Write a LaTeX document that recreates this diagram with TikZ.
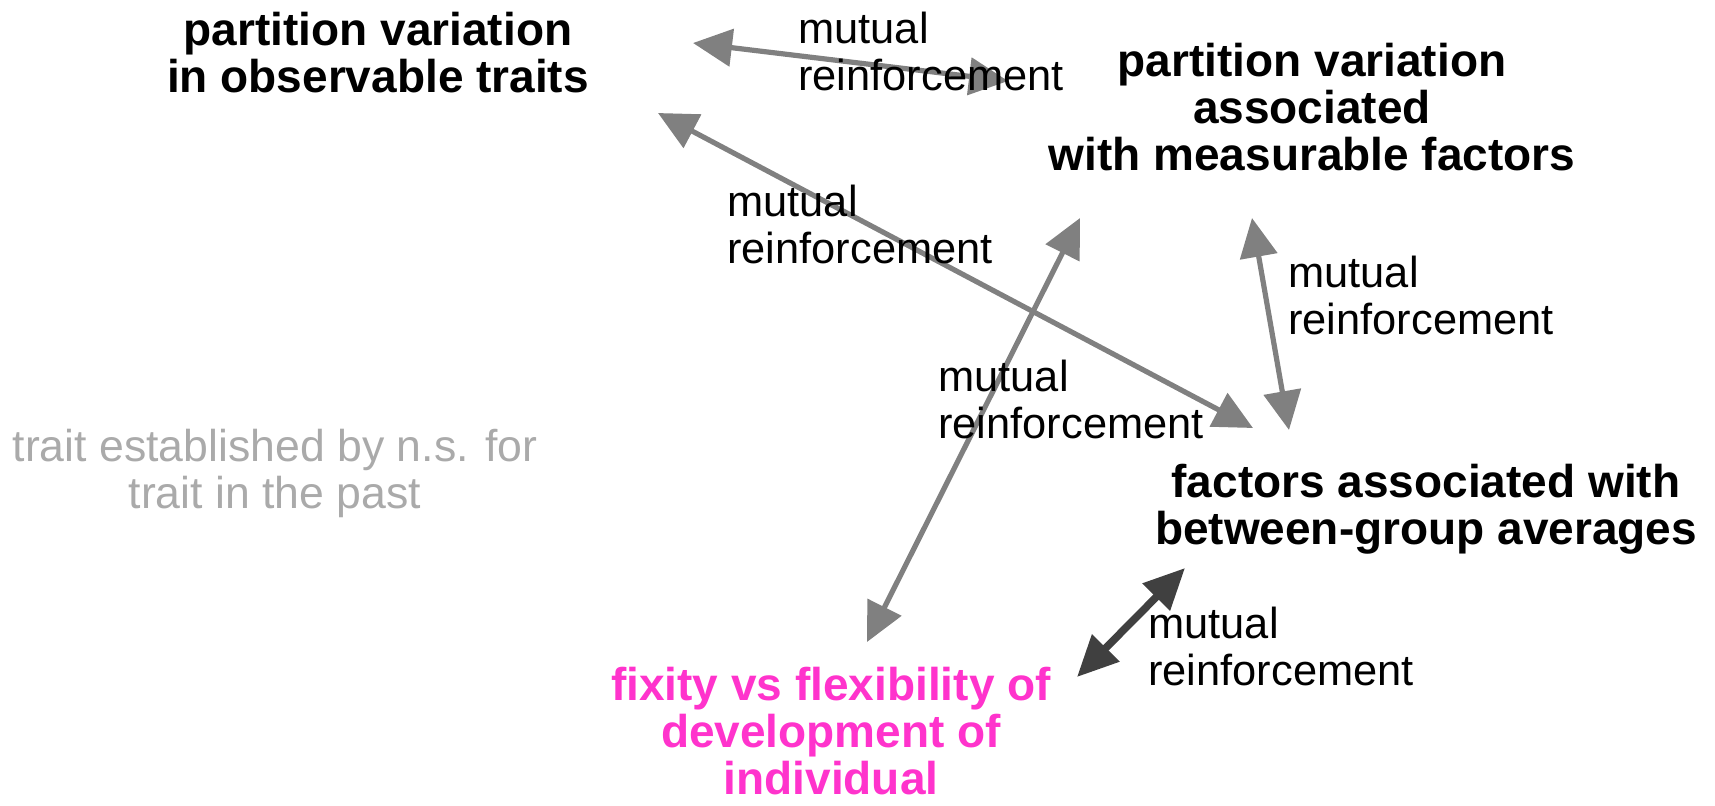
\documentclass[tikz,border=0pt]{standalone}
\usepackage{fontspec}
\setmainfont{Liberation Sans}
\usetikzlibrary{arrows.meta}
\definecolor{edgegray}{RGB}{128,128,128}
\definecolor{edgedark}{RGB}{64,64,64}
\definecolor{pinktext}{RGB}{255,51,204}
\definecolor{faint}{RGB}{170,170,170}
\begin{document}
\begin{tikzpicture}[x=0.5pt,y=-0.5pt,
  title/.style={font=\fontsize{23pt}{23.5pt}\selectfont\bfseries, align=center, inner sep=0pt, anchor=base},
  note/.style={font=\fontsize{22.3pt}{23.5pt}\selectfont, align=center, inner sep=0pt, anchor=base, text=faint},
  edgelabel/.style={font=\fontsize{21.7pt}{23.5pt}\selectfont, align=left, inner sep=0pt, anchor=base west},
  link/.style={draw=edgegray, line width=2.6pt, {Triangle[length=19.5pt,width=18.5pt]}-{Triangle[length=19.5pt,width=18.5pt]}, fill=edgegray},
  strong/.style={draw=edgedark, line width=3.8pt, {Triangle[length=20.5pt,width=18.5pt]}-{Triangle[length=20.5pt,width=18.5pt]}, fill=edgedark}
]
\useasboundingbox (0,0) rectangle (1715,805);

% endpoints of connectors
\coordinate (ab-a) at (693,43);
\coordinate (ab-b) at (1008,81);
\coordinate (ac-a) at (658,113);
\coordinate (ac-c) at (1253,428);
\coordinate (bd-b) at (1080,218);
\coordinate (bd-d) at (867,642);
\coordinate (bc-b) at (1252,218);
\coordinate (bc-c) at (1289,430);
\coordinate (cd-c) at (1185,568);
\coordinate (cd-d) at (1077,677);

\draw[link] (ab-a) -- (ab-b);
\draw[link] (ac-a) -- (ac-c);
\draw[link] (bd-b) -- (bd-d);
\draw[link] (bc-b) -- (bc-c);
\draw[strong] (cd-c) -- (cd-d);

\node[title] (A) at (378,92) {partition variation\\in observable traits};
\node[title] (B) at (1312,170) {partition variation\\associated\\with measurable factors};
\node[title] (C) at (1426,544) {factors associated with\\between-group averages};
\node[title, text=pinktext] (D) at (831,794) {fixity vs flexibility of\\development of\\individual};
\node[note] (E) at (275,508) {trait established by n.s. for\\trait in the past};

\node[edgelabel] (L1) at (798,90) {mutual\\reinforcement};
\node[edgelabel] (L2) at (727,263) {mutual\\reinforcement};
\node[edgelabel] (L3) at (938,438) {mutual\\reinforcement};
\node[edgelabel] (L4) at (1288,334) {mutual\\reinforcement};
\node[edgelabel] (L5) at (1148,685) {mutual\\reinforcement};
\end{tikzpicture}
\end{document}
